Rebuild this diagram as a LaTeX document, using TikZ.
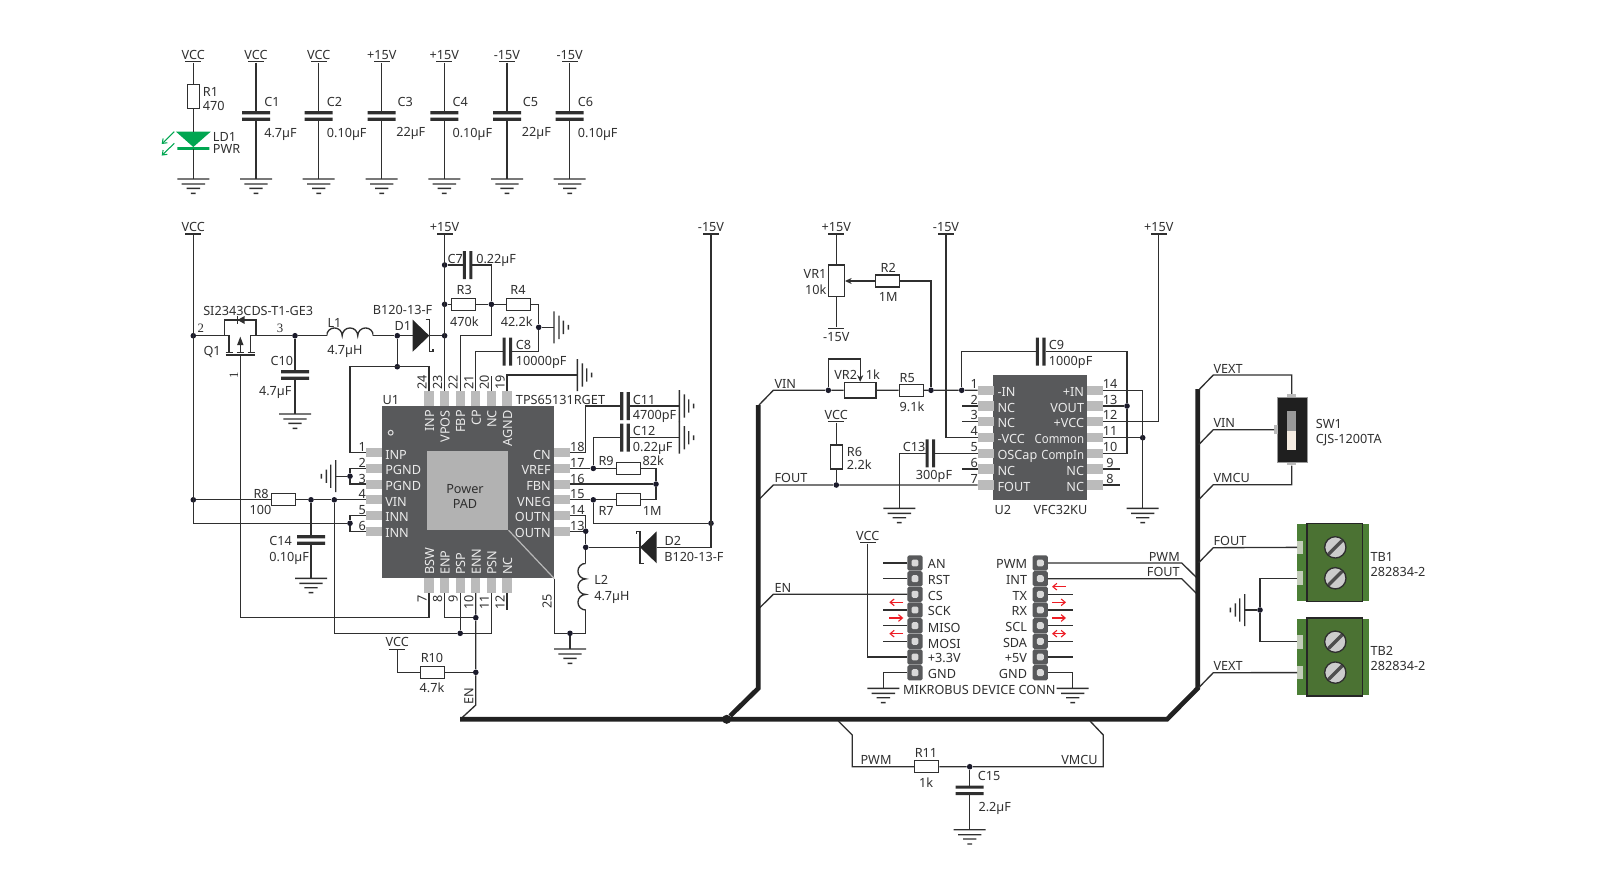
\documentclass[tikz,border=0pt]{standalone}
\usepackage{fontspec}
\setmainfont{Noto Sans}
\newfontfamily\numfont{Liberation Serif}
\usetikzlibrary{arrows.meta}
\definecolor{ink}{HTML}{2F2F2F}
\definecolor{jun}{HTML}{1B1B2B}
\definecolor{chipgray}{HTML}{58595B}
\definecolor{pingray}{HTML}{BBBBBB}
\definecolor{ledgreen}{HTML}{00A651}
\definecolor{tbin}{HTML}{4B7233}
\definecolor{tbout}{HTML}{4C7F36}
\definecolor{tbpin}{HTML}{C3CCB9}
\definecolor{busred}{HTML}{ED1C24}
\tikzset{
  wire/.style={draw=ink,line width=1pt},
  bus/.style={draw=ink!70!black,line width=3.5pt},
  dot/.style={circle,fill=jun,minimum size=4.2pt,inner sep=0pt},
  lblbase/.style={inner sep=0pt,text=ink,text height=7.5pt,text depth=0pt,font=\fontsize{9.5}{10}\selectfont},
  lbl/.style={lblbase,anchor=west},
  lble/.style={lblbase,anchor=east},
  lblc/.style={lblbase,anchor=center},
  num/.style={lblbase,anchor=center},
  chiptxt/.style={lblbase,text=white!92!black},
  rail/.style={fill=ink,minimum width=12pt,minimum height=1pt,inner sep=0pt,label={[lblbase,label distance=1pt]above:#1}},
  railb/.style={fill=ink,minimum width=12pt,minimum height=1pt,inner sep=0pt,label={[lblbase,label distance=1.5pt]below:#1}},
  resh/.style={draw=ink,line width=1pt,fill=white,minimum width=18pt,minimum height=9pt,inner sep=0pt},
  resv/.style={draw=ink,line width=1pt,fill=white,minimum width=9pt,minimum height=18pt,inner sep=0pt},
  caph/.style={minimum width=21pt,minimum height=7.2pt,inner sep=0pt,outer sep=0pt,path picture={
    \fill[ink,shift={(path picture bounding box.center)},x=1pt,y=1pt] (-10.5,1.3) rectangle (10.5,3.6) (-10.5,-3.6) rectangle (10.5,-1.3);}},
  capv/.style={minimum width=7.2pt,minimum height=21pt,inner sep=0pt,outer sep=0pt,path picture={
    \fill[ink,shift={(path picture bounding box.center)},x=1pt,y=1pt] (1.3,-10.5) rectangle (3.6,10.5) (-3.6,-10.5) rectangle (-1.3,10.5);}},
  coilh/.style={minimum width=35pt,minimum height=14pt,inner sep=0pt,outer sep=0pt,path picture={
    \draw[ink,line width=1pt,shift={(path picture bounding box.center)},x=1pt,y=1pt] (-17.5,0) arc (180:0:5.83) arc (180:0:5.83) arc (180:0:5.83);}},
  coilv/.style={minimum width=14pt,minimum height=35pt,inner sep=0pt,outer sep=0pt,path picture={
    \draw[ink,line width=1pt,shift={(path picture bounding box.center)},x=1pt,y=1pt] (0,17.5) arc (90:270:5.83) arc (90:270:5.83) arc (90:270:5.83);}},
  chip/.style={fill=chipgray,inner sep=0pt},
  pinh/.style={fill=pingray,minimum width=12pt,minimum height=6.8pt,inner sep=0pt,outer sep=0pt},
  pinv/.style={fill=pingray,minimum width=6.8pt,minimum height=11pt,inner sep=0pt,outer sep=0pt},
  hdr/.style={fill=chipgray,rounded corners=1.2pt,minimum size=11.4pt,inner sep=0pt,outer sep=0pt,path picture={
    \fill[white!85!black,shift={(path picture bounding box.center)},x=1pt,y=1pt] (-2.6,-2.6) rectangle (2.6,2.6);}},
  screw/.style={circle,draw=ink,line width=1pt,fill=white!80!black,minimum size=16pt,inner sep=0pt,path picture={
    \draw[ink!85,line width=2.5pt,line cap=round,shift={(path picture bounding box.center)},x=1pt,y=1pt] (-4.8,-4.8) -- (4.8,4.8);}},
  redarrow/.style={draw=busred,line width=.85pt},
  pics/gnd/.style={code={
    \coordinate (-t) at (0,0);
    \fill[ink] (-16,-.7) rectangle (16,.7) (-11.7,4.4) rectangle (11.7,5.7) (-6.7,8.7) rectangle (6.7,10) (-2.4,13.6) rectangle (2.4,15);}},
  pics/diode/.style={code={
    \coordinate (-a) at (0,0);
    \coordinate (-k) at (16.6,0);
    \fill[ink!80!black] (0,-16) -- (16.6,0) -- (0,16) -- cycle;
    \draw[wire] (13,-16) -- (16.6,-16) -- (16.6,16) -- (20.2,16) -- (20.2,13);}},
  pics/mosfet/.style={code={
    \coordinate (-s) at (-16,0);
    \coordinate (-d) at (15.7,0);
    \coordinate (-g) at (0,19.3);
    \draw[wire] (-11.3,16) -- (-11.3,0) -- (-16,0) -- (-16,-15.7) -- (15.7,-15.7) -- (15.7,0) -- (10.3,0) -- (10.3,16);
    \draw[wire] (0,9) -- (0,16);
    \fill[ink] (0,1) -- (3.2,9.3) -- (-3.2,9.3) -- cycle;
    \fill[ink] (-2.7,-15.7) -- (4.3,-19.7) -- (4.3,-11.7) -- cycle;
    \draw[wire] (-2.7,-20) -- (-2.7,-11.4);
    \draw[wire] (-14.7,16.7) -- (-7,16.7) (-3.7,16.7) -- (3.7,16.7) (7.3,16.7) -- (14.7,16.7) (-14.7,19.3) -- (14.7,19.3);}},
}
\begin{document}
\begin{tikzpicture}[x=0.75pt,y=-0.75pt]
    \useasboundingbox (0,0) rectangle (1599,871);

    % decoupling row
    \node[rail=VCC] (railR1) at (193.3,61.7) {};
    \node[resv] (R1) at (193.3,96.7) {};
    \node[lbl] (tR1) at (202.7,91.7) {R1};
    \node[lbl] (vR1) at (202.7,105) {470};
    \coordinate (LD1t) at (193.3,131.7);
    \coordinate (LD1b) at (193.3,149);
    \fill[ledgreen] (176,131.7) -- (210.7,131.7) -- (193.3,147) -- cycle (177.3,147.2) rectangle (209.3,149.8);
    \draw[ledgreen,line width=.8pt,-{Straight Barb[length=3pt,width=4.5pt]}] (174.3,131.7) -- (161.7,144);
    \draw[ledgreen,line width=.8pt,-{Straight Barb[length=3pt,width=4.5pt]}] (174.3,143.3) -- (161.7,155.6);
    \node[lbl] (tLD1) at (212.7,136) {LD1};
    \node[lbl] (vLD1) at (212.7,148.7) {PWR};
    \pic (gR1) at (193.3,179) {gnd};
    \draw[wire] (railR1) -- (R1) -- (LD1t);
    \draw[wire] (LD1b) -- (gR1-t);

    \foreach \n/\x/\top/\dt/\val/\dv/\yv in {C1/256/VCC/8/4.7µF/8/132.7,C2/318.7/VCC/8/0.10µF/8/132.7,C3/381.7/+15V/15.6/22µF/14.3/131,C4/444.3/+15V/8/0.10µF/8/132.7,C5/507/-15V/15.7/22µF/14.7/131,C6/569.7/-15V/8/0.10µF/8/132.7}{
      \node[rail=\top] (rail\n) at (\x,61.7) {};
      \node[caph] (\n) at (\x,116) {};
      \node[lbl] (t\n) at (\x+\dt,101) {\n};
      \node[lbl] (v\n) at (\x+\dv,\yv) {\val};
      \pic (g\n) at (\x,179) {gnd};
      \draw[wire] (rail\n) -- (\n) -- (g\n-t);
    }

    % U1 body and pins
    \node[chip,minimum width=129.2pt,minimum height=129.2pt] (U1) at (467.85,492.15) {};
    \node[fill=white!70!black,minimum width=61.2pt,minimum height=59.2pt,inner sep=0pt] (U1pad) at (467.5,490.5) {};
    \draw[white!72!black,line width=.9pt] (U1pad.south east) -- (U1.south east);
    \node[lblc] (pad1) at (465,488.3) {Power};
    \node[lblc] (pad2) at (465,503) {PAD};
    \node[circle,draw=white!85!black,fill=chipgray,line width=.8pt,minimum size=3.6pt,inner sep=0pt] (U1mark) at (390.7,432.7) {};
    \node[lbl] (tU1) at (382.3,399.3) {U1};
    \node[lbl] (vU1) at (515.7,399.3) {TPS65131RGET};
    \foreach \n/\y/\t in {1/452.7/INP,2/468.4/PGND,3/484.1/PGND,4/499.8/VIN,5/515.5/INN,6/531.2/INN}{
      \node[pinh] (a\n) at (373.7,\y) {};
      \node[chiptxt,anchor=west] (at\n) at (385,\y+1.3) {\t};
      \node[num] (an\n) at (362.3,\y-6) {\n};
    }
    \foreach \n/\y/\t in {13/531.2/OUTN,14/515.5/OUTN,15/499.8/VNEG,16/484.1/FBN,17/468.4/VREF,18/452.7/CN}{
      \node[pinh] (a\n) at (562,\y) {};
      \node[chiptxt,anchor=east] (at\n) at (551,\y+1.3) {\t};
      \node[num] (an\n) at (577.3,\y-6) {\n};
    }
    \foreach \n/\x/\t in {7/429/BSW,8/444.6/ENP,9/460.2/PSP,10/475.8/ENN,11/491.4/PSN,12/507/NC}{
      \node[pinv] (a\n) at (\x,585.7) {};
      \node[chiptxt,anchor=west,rotate=90] (at\n) at (\x,575) {\t};
      \node[num,anchor=east,rotate=90] (an\n) at (\x-7.5,595) {\n};
    }
    \foreach \n/\x/\t in {19/507/AGND,20/491.4/NC,21/475.8/CP,22/460.2/FBP,23/444.6/VPOS,24/429/INP}{
      \node[pinv] (a\n) at (\x,398.5) {};
      \node[chiptxt,anchor=east,rotate=90] (at\n) at (\x,410) {\t};
      \node[num,anchor=west,rotate=90] (an\n) at (\x-7.5,390) {\n};
    }
    \node[num,rotate=90] (an25) at (546.7,601) {25};

    % left supply and Q1
    \node[rail=VCC] (railV) at (193.3,234) {};
    \node[dot] (d1) at (193.3,335.7) {};
    \node[dot] (d2) at (193.3,499.8) {};
    \node[dot] (d3) at (350,523.3) {};
    \draw[wire] (railV) |- (d3);
    \draw[wire] (a5) -| (d3);
    \draw[wire] (a6) -| (d3);
    \pic (Q1) at (240.3,335.7) {mosfet};
    \node[lbl] (tQ1) at (203.3,350) {Q1};
    \node[lbl] (vQ1) at (203,310) {SI2343CDS-T1-GE3};
    \node[lblc,font=\fontsize{9.6}{10}\numfont] (q2) at (200.7,327.7) {2};
    \node[lblc,font=\fontsize{9.6}{10}\numfont] (q3) at (280,327.7) {3};
    \node[lblc,font=\fontsize{9.6}{10}\numfont,rotate=90] (q1) at (233,375) {1};
    \coordinate (k7) at (429,617.7);
    \draw[wire] (Q1-g) |- (k7) -- (a7);
    \node[dot] (d4) at (295,335.7) {};
    \node[coilh] (L1) at (350,335.7) {};
    \node[lbl] (tL1) at (327.3,322.7) {L1};
    \node[lbl] (vL1) at (327,349.3) {4.7µH};
    \node[caph] (C10) at (295,375) {};
    \node[lble] (tC10) at (293.3,360.7) {C10};
    \node[lble] (vC10) at (291.7,390) {4.7µF};
    \pic (gC10) at (295,414) {gnd};
    \draw[wire] (d4) -- (C10) -- (gC10-t);
    \node[dot] (d5) at (397.3,335.7) {};
    \node[dot] (d7) at (397.3,366.7) {};
    \pic (D1) at (412.7,335.7) {diode};
    \node[lbl] (tD1) at (394.3,325.7) {D1};
    \node[lbl] (vD1) at (372.7,309.3) {B120-13-F};
    \node[dot] (d6) at (444.6,335.7) {};
    \draw[wire] (d1) -- (Q1-s);
    \draw[wire] (Q1-d) -- (d4) -- (L1) -- (d5) -- (D1-a);
    \draw[wire] (D1-k) -- (d6);
    \coordinate (k24) at (429,366.7);
    \coordinate (k1) at (350,366.7);
    \draw[wire] (d5) -- (d7);
    \draw[wire] (a24) -- (k24) -- (k1) |- (a1);

    % feedback around C7, R3, R4, C8
    \node[rail=+15V] (railP) at (444.6,234) {};
    \node[dot] (d8) at (444.6,265) {};
    \node[dot] (d9) at (444.6,304.3) {};
    \node[dot] (d10) at (491.4,304.3) {};
    \node[dot] (d11) at (538.7,327.3) {};
    \draw[wire] (railP) -- (a23);
    \node[capv] (C7) at (467.6,265) {};
    \node[lbl] (tC7) at (447.3,258.3) {C7};
    \node[lbl] (vC7) at (476,258.3) {0.22µF};
    \node[resh] (R3) at (463.7,304.3) {};
    \node[lblc] (tR3) at (464.3,289.3) {R3};
    \node[lblc] (vR3) at (464.3,321) {470k};
    \node[resh] (R4) at (518.7,304.3) {};
    \node[lblc] (tR4) at (518,289.3) {R4};
    \node[lblc] (vR4) at (516.7,321) {42.2k};
    \node[capv] (C8) at (507.4,351.7) {};
    \node[lbl] (tC8) at (515.7,344.3) {C8};
    \node[lbl] (vC8) at (515.7,360) {10000pF};
    \coordinate (k22) at (460.2,335.7);
    \draw[wire] (d8) -- (C7);
    \draw[wire] (C7) -| (d10);
    \draw[wire] (d10) |- (k22) -- (a22);
    \draw[wire] (d9) -- (R3) -- (d10) -- (R4);
    \draw[wire] (R4) -| (d11);
    \draw[wire] (d11) |- (C8);
    \draw[wire] (C8) -| (a21);
    \pic[rotate=90] (gA) at (554,327.3) {gnd};
    \draw[wire] (d11) -- (gA-t);
    \pic[rotate=90] (gB) at (577.3,375) {gnd};
    \draw[wire] (a19) |- (gB-t);
    \coordinate (s20) at (491.4,376);
    \draw[wire] (a20) -- (s20);

    % right side of U1
    \node[capv] (C11) at (625,406) {};
    \node[lbl] (tC11) at (632.7,399.3) {C11};
    \node[lbl] (vC11) at (632.7,414.3) {4700pF};
    \node[capv] (C12) at (625,437.7) {};
    \node[lbl] (tC12) at (632.7,430) {C12};
    \node[lbl] (vC12) at (632.7,446) {0.22µF};
    \pic[rotate=90] (gC) at (679.3,406) {gnd};
    \pic[rotate=90] (gD) at (679.3,437.7) {gnd};
    \coordinate (k18) at (585.7,406);
    \node[dot] (d12) at (593.3,468.4) {};
    \node[dot] (d13) at (656,484.1) {};
    \node[dot] (d14) at (593.3,499.8) {};
    \node[dot] (d15) at (711,523.3) {};
    \node[resh] (R9) at (628.7,468.4) {};
    \node[lbl] (tR9) at (598.3,460.7) {R9};
    \node[lbl] (vR9) at (642.3,460.7) {82k};
    \node[resh] (R7) at (628.7,499.8) {};
    \node[lbl] (tR7) at (598.3,510.7) {R7};
    \node[lbl] (vR7) at (642.7,510.7) {1M};
    \draw[wire] (a18) -| (k18) -- (C11) -- (gC-t);
    \draw[wire] (a17) -- (d12) |- (C12);
    \draw[wire] (C12) -- (gD-t);
    \draw[wire] (d12) -- (R9) -| (d13);
    \draw[wire] (a16) -- (d13);
    \draw[wire] (d13) |- (R7);
    \draw[wire] (a15) -- (d14) -- (R7);
    \draw[wire] (d14) |- (d15);
    \node[rail=-15V] (railN) at (711,234) {};
    \pic[rotate=180] (D2) at (656.7,547.3) {diode};
    \node[lbl] (tD2) at (664.3,540) {D2};
    \node[lbl] (vD2) at (664,556) {B120-13-F};
    \draw[wire] (railN) |- (D2-a);
    \node[dot] (d16) at (585.7,531.2) {};
    \node[dot] (d17) at (585.7,547.3) {};
    \node[dot] (d18) at (570,633.3) {};
    \node[coilv] (L2) at (585.7,586.7) {};
    \node[lbl] (tL2) at (594,579.3) {L2};
    \node[lbl] (vL2) at (594,595.7) {4.7µH};
    \pic (gL2) at (570,649) {gnd};
    \draw[wire] (a14) -| (d16);
    \draw[wire] (a13) -- (d16) -- (d17) -- (L2);
    \draw[wire] (D2-k) -- (d17);
    \draw[wire] (L2) |- (d18);
    \draw[wire] (d18) -| (U1.south east);
    \draw[wire] (d18) -- (gL2-t);

    % bottom and left of U1
    \node[dot] (d19) at (475.8,617.7) {};
    \node[dot] (d20) at (460.2,633.3) {};
    \node[dot] (d21) at (475.8,672.3) {};
    \node[dot] (d22) at (334.3,499.8) {};
    \node[dot] (d23) at (311,499.8) {};
    \node[dot] (d24) at (350,476.2) {};
    \coordinate (kEN) at (475.8,705);
    \coordinate (bEN) at (461.7,718);
    \coordinate (s12) at (507,610);
    \draw[wire] (a8) |- (d19);
    \draw[wire] (a10) -- (d19) -- (d21) -- (kEN) -- (bEN);
    \draw[wire] (a9) -- (d20);
    \draw[wire] (a11) |- (d20);
    \draw[wire] (d20) -| (d22);
    \draw[wire] (a12) -- (s12);
    \node[resh] (R8) at (283.7,499.8) {};
    \node[lbl] (tR8) at (253.3,493.3) {R8};
    \node[lbl] (vR8) at (249.3,509) {100};
    \draw[wire] (d2) -- (R8) -- (d23) -- (d22) -- (a4);
    \node[caph] (C14) at (311,540) {};
    \node[lbl] (tC14) at (269,540) {C14};
    \node[lbl] (vC14) at (269,556) {0.10µF};
    \pic (gC14) at (311,578.3) {gnd};
    \draw[wire] (d23) -- (C14) -- (gC14-t);
    \pic[rotate=-90] (gE) at (335.7,476.2) {gnd};
    \draw[wire] (a2) -| (d24);
    \draw[wire] (a3) -| (d24);
    \draw[wire] (d24) -- (gE-t);
    \node[rail=VCC] (railR10) at (397.3,649.3) {};
    \node[resh] (R10) at (432.7,672.3) {};
    \node[lblc] (tR10) at (432,657.7) {R10};
    \node[lblc] (vR10) at (432,687.7) {4.7k};
    \draw[wire] (railR10) |- (R10);
    \draw[wire] (R10) -- (d21);
    \node[lblc,rotate=90] (tEN) at (468.3,696) {EN};

    % VR1, VR2 and U2
    \node[chip,minimum width=70.5pt,minimum height=93.75pt] (U2) at (1040.3,437.5) {};
    \node[lbl] (tU2) at (994.3,509.3) {U2};
    \node[lbl] (vU2) at (1033.3,509.3) {VFC32KU};
    \foreach \n/\y/\t in {1/390.3/-IN,2/406/NC,3/421.7/NC,4/437.7/-VCC,5/453.3/OSCap,6/469/NC,7/485/FOUT}{
      \node[pinh] (b\n) at (985.5,\y) {};
      \node[chiptxt,anchor=west] (bt\n) at (997.3,\y+1.2) {\t};
      \node[num] (bn\n) at (974.3,\y-7) {\n};
    }
    \foreach \n/\y/\t in {8/485/NC,9/469/NC,10/453.3/\scalebox{.9}[1]{CompIn},11/437.7/\scalebox{.9}[1]{Common},12/421.7/+VCC,13/406/VOUT,14/390.3/+IN}{
      \node[pinh] (b\n) at (1095.3,\y) {};
      \node[chiptxt,anchor=east] (bt\n) at (1084.3,\y+1.2) {\t};
      \node[num] (bn\n) at (1110,\y-7) {\n};
    }
    \foreach \n/\x in {2/961.7,3/961.7,6/961.7,8/1120,9/1120}{
      \path (b\n) -- (\x,0 |- b\n) coordinate (sb\n);
      \draw[wire] (b\n) -- (sb\n);
    }
    \node[rail=+15V] (railVR1) at (836.3,234) {};
    \node[railb=-15V] (railVR1b) at (836.3,328.3) {};
    \node[draw=ink,line width=1pt,fill=white,minimum width=12pt,minimum height=23.8pt,inner sep=0pt] (VR1) at (836.3,280.9) {};
    \node[lble] (tVR1) at (826.7,273.3) {VR1};
    \node[lble] (vVR1) at (826.7,289.3) {10k};
    \draw[wire] (railVR1) -- (VR1) -- (railVR1b);
    \node[resh] (R2) at (887.5,281) {};
    \node[lblc] (tR2) at (888.3,267.7) {R2};
    \node[lblc] (vR2) at (888.3,296) {1M};
    \draw[wire,-{Stealth[length=5pt,width=4.5pt]}] (R2) -- (VR1.east |- R2);
    \node[dot] (d25) at (828.3,390.3) {};
    \node[dot] (d26) at (931,390.3) {};
    \node[dot] (d27) at (961.7,390.3) {};
    \node[draw=ink,line width=1pt,fill=white,minimum width=23.8pt,minimum height=11.7pt,inner sep=0pt] (VR2) at (860.2,390.3) {};
    \node[lbl] (tVR2) at (834,374) {VR2};
    \node[lbl] (vVR2) at (865.7,374) {1k};
    \coordinate (kVR2) at (860.2,359);
    \node[resh] (R5) at (911.3,390.3) {};
    \node[lblc] (tR5) at (907.3,377.7) {R5};
    \node[lblc] (vR5) at (912,406) {9.1k};
    \coordinate (kVIN) at (773.3,390.3);
    \coordinate (bVIN) at (759,405);
    \node[lbl] (tVIN) at (774.3,383.3) {VIN};
    \draw[wire] (bVIN) -- (kVIN) -- (d25) -- (VR2) -- (R5) -- (d26) -- (d27) -- (b1);
    \draw[wire,-{Stealth[length=5pt,width=4.5pt]}] (d25) |- (kVR2) -- (VR2.north);
    \draw[wire] (R2) -| (d26);
    \node[rail=-15V] (railU2) at (946,234) {};
    \draw[wire] (railU2) |- (b4);
    \node[capv] (C9) at (1040.7,351.7) {};
    \node[lbl] (tC9) at (1048.7,344.3) {C9};
    \node[lbl] (vC9) at (1048.7,360) {1000pF};
    \node[dot] (d28) at (1127,406) {};
    \draw[wire] (d27) |- (C9);
    \draw[wire] (C9) -| (d28);
    \draw[wire] (d28) |- (b10);
    \draw[wire] (b13) -- (d28);
    \node[capv] (C13) at (930.3,453.3) {};
    \node[lbl] (tC13) at (902.7,446.7) {C13};
    \node[lbl] (vC13) at (915.7,474) {300pF};
    \pic (gC13) at (899.3,508.3) {gnd};
    \draw[wire] (b5) -- (C13);
    \draw[wire] (C13) -| (gC13-t);
    \node[dot] (d29) at (836.3,485) {};
    \node[rail=VCC] (railR6) at (836.3,421.7) {};
    \node[resv] (R6) at (836.3,457) {};
    \node[lbl] (tR6) at (846.7,451.7) {R6};
    \node[lbl] (vR6) at (846.7,464) {2.2k};
    \coordinate (kFOUT) at (773.3,485);
    \coordinate (bFOUT) at (759,499.5);
    \node[lbl] (tFOUT) at (774.3,477.7) {FOUT};
    \draw[wire] (bFOUT) -- (kFOUT) -- (d29) -- (b7);
    \draw[wire] (railR6) -- (R6) -- (d29);
    \node[dot] (d30) at (1142.7,437.7) {};
    \pic (gU2) at (1142.7,508.3) {gnd};
    \node[rail=+15V] (railU2b) at (1158.7,234) {};
    \draw[wire] (b14) -| (gU2-t);
    \draw[wire] (b11) -- (d30);
    \draw[wire] (b12) -| (railU2b);

    % mikroBUS connector
    \foreach \n/\y/\tl/\tr/\dl/\dr in {1/563/AN/PWM/.7/.7,2/578.7/RST/INT/.7/.7,3/594.3/CS/TX/.7/.7,4/610/SCK/RX/.7/.7,5/625.7/MISO/SCL/2/.7,6/641.3/MOSI/SDA/2/1,7/657/+3.3V/+5V/.7/.7,8/672.7/GND/GND/.7/.7}{
      \node[hdr] (cl\n) at (915,\y) {};
      \node[hdr] (cr\n) at (1040.3,\y) {};
      \node[lbl] (tl\n) at (927.7,\y+\dl) {\tl};
      \node[lble] (tr\n) at (1027.3,\y+\dr) {\tr};
    }
    \foreach \n in {1,2,4,5,6}{
      \path (cl\n) -- (883.3,0 |- cl\n) coordinate (sl\n);
      \draw[wire] (cl\n) -- (sl\n);
    }
    \foreach \n in {3,4,5,6,7}{
      \path (cr\n) -- (1072.7,0 |- cr\n) coordinate (sr\n);
      \draw[wire] (cr\n) -- (sr\n);
    }
    \foreach \y/\a/\b in {602.3/903.3/889.3,618/889.3/903.3,633.7/903.3/889.3,586.7/1066/1052,602.3/1052/1066,618/1052/1066}{
      \draw[redarrow,-{Straight Barb[length=3pt,width=5pt]}] (\a,\y) -- (\b,\y);
    }
    \draw[redarrow,{Straight Barb[length=3pt,width=5pt]}-{Straight Barb[length=3pt,width=5pt]}] (1052,633.7) -- (1066,633.7);
    \node[rail=VCC] (railC) at (867.7,542.7) {};
    \draw[wire] (railC) |- (cl7);
    \pic (gCl) at (883.3,688.3) {gnd};
    \pic (gCr) at (1072.7,688.3) {gnd};
    \draw[wire] (cl8) -| (gCl-t);
    \draw[wire] (cr8) -| (gCr-t);
    \node[lblc] (tCONN) at (979.3,689) {MIKROBUS DEVICE CONN};
    \coordinate (kEN2) at (773.3,594.3);
    \coordinate (bEN2) at (759,608.5);
    \node[lbl] (tEN2) at (774.3,587.7) {EN};
    \draw[wire] (bEN2) -- (kEN2) -- (cl3);
    \coordinate (kP) at (1181.7,563);
    \coordinate (bP) at (1197,578);
    \coordinate (kF) at (1181.7,578.7);
    \coordinate (bF) at (1197,594);
    \node[lble] (tP) at (1180,556) {PWM};
    \node[lble] (tF) at (1180,571.7) {FOUT};
    \draw[wire] (cr1) -- (kP) -- (bP);
    \draw[wire] (cr2) -- (kF) -- (bF);

    % bus
    \node[circle,fill=ink!70!black,minimum size=6.8pt,inner sep=0pt] (busdot) at (726.7,719.3) {};
    \coordinate (busA) at (460,719.3);
    \coordinate (busB) at (1167,719.3);
    \coordinate (busC) at (1197.7,688.3);
    \coordinate (busD) at (1197.7,389);
    \coordinate (busE) at (758.3,688.3);
    \coordinate (busF) at (758.3,405);
    \draw[bus] (busA) -- (busB) -- (busC) -- (busD);
    \draw[bus] (busdot) -- (busE) -- (busF);

    % RC below the bus
    \coordinate (bPa) at (838.3,721);
    \coordinate (kPa) at (852.3,735);
    \coordinate (kPb) at (852.3,766.7);
    \coordinate (bVa) at (1090,721);
    \coordinate (kVa) at (1103.3,735);
    \coordinate (kVb) at (1103.3,766.7);
    \node[resh] (R11) at (926.8,766.7) {};
    \node[dot] (d31) at (969.7,766.7) {};
    \node[lbl] (tPWM) at (860.3,759.3) {PWM};
    \node[lble] (tVMCU) at (1098,759.3) {VMCU};
    \node[lblc] (tR11) at (926,752.3) {R11};
    \node[lblc] (vR11) at (926,782.3) {1k};
    \node[caph] (C15) at (969.7,790.3) {};
    \node[lbl] (tC15) at (977.7,775.7) {C15};
    \node[lbl] (vC15) at (978.3,806.7) {2.2µF};
    \pic (gC15) at (969.7,829.7) {gnd};
    \draw[wire] (bPa) -- (kPa) -- (kPb) -- (R11) -- (d31) -- (kVb) -- (kVa) -- (bVa);
    \draw[wire] (d31) -- (C15) -- (gC15-t);

    % switch
    \node[fill=black!88,draw=white!60!black,line width=.5pt,minimum width=22pt,minimum height=49.3pt,inner sep=0pt] (SW1) at (1292.3,429.85) {};
    \node[fill=white!60!black,minimum width=7pt,minimum height=15pt,inner sep=0pt] (SWa) at (1291.7,421) {};
    \node[fill=white!85!brown,minimum width=7pt,minimum height=14.25pt,inner sep=0pt] (SWb) at (1291.7,440.5) {};
    \node[fill=pingray,minimum width=6.5pt,minimum height=2.2pt,inner sep=0pt] (SWt) at (1291.7,395.7) {};
    \node[fill=pingray,minimum width=6.5pt,minimum height=2.2pt,inner sep=0pt] (SWd) at (1291.7,464) {};
    \node[fill=pingray,minimum width=2.4pt,minimum height=6.5pt,inner sep=0pt] (SWl) at (1276,429.7) {};
    \node[lbl] (tSW1) at (1315.7,423.3) {SW1};
    \node[lbl] (vSW1) at (1315.7,438.7) {CJS-1200TA};
    \foreach \k/\y/\t/\ty in {A/375/VEXT/368.3,B/429.7/VIN/422.7,C/484.7/VMCU/477.3,D/547.7/FOUT/540.3,E/672.7/VEXT/665.7}{
      \coordinate (k\k) at (1213.3,\y);
      \coordinate (b\k) at (1198.7,\y+15);
      \node[lbl] (t\k) at (1213.3,\ty) {\t};
    }
    \draw[wire] (bA) -- (kA) -| (SWt);
    \draw[wire] (bB) -- (kB) -- (SWl);
    \draw[wire] (bC) -- (kC) -| (SWd);

    % terminal blocks
    \foreach \n/\y/\t in {TB1/562.65/556,TB2/657/650}{
      \node[fill=tbout,minimum width=53.8pt,minimum height=57.5pt,inner sep=0pt] (\n o) at (1333.15,\y) {};
      \node[fill=tbin,draw=black!85,line width=1pt,minimum width=41.5pt,minimum height=58.5pt,inner sep=0pt] (\n) at (1334.65,\y) {};
      \node[fill=tbpin,minimum width=4.5pt,minimum height=10.2pt,inner sep=0pt] (\n a) at (1300.3,\y-15.3) {};
      \node[fill=tbpin,minimum width=4.5pt,minimum height=10.2pt,inner sep=0pt] (\n b) at (1300.3,\y+15.6) {};
      \node[screw] (\n s) at (1335.3,\y-15.3) {};
      \node[screw] (\n r) at (1335.3,\y+15.6) {};
      \node[lbl] (t\n) at (1370.3,\t) {\n};
      \node[lbl] (v\n) at (1370.3,\t+15.7) {282834-2};
    }
    \node[dot] (d32) at (1260,610) {};
    \pic[rotate=-90] (gTB) at (1244.7,610) {gnd};
    \draw[wire] (d32) -- (gTB-t);
    \draw[wire] (TB1b) -| (d32);
    \draw[wire] (TB2a) -| (d32);
    \draw[wire] (bD) -- (kD) -- (TB1a);
    \draw[wire] (bE) -- (kE) -- (TB2b);
\end{tikzpicture}
\end{document}
